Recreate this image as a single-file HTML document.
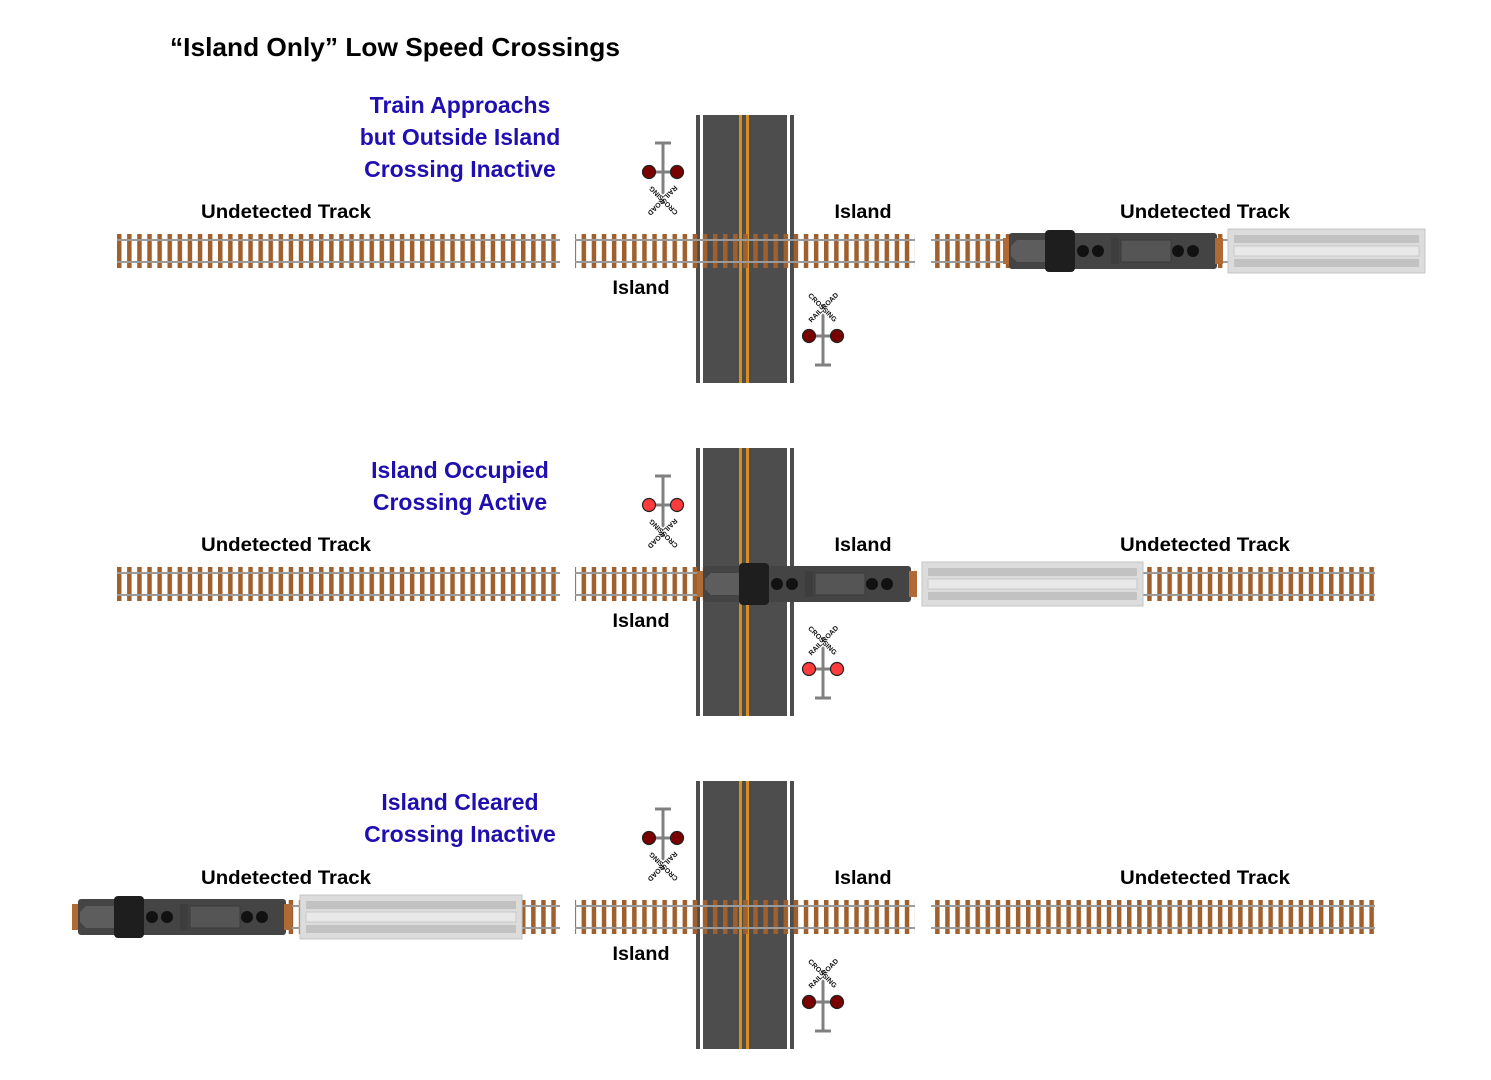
<!DOCTYPE html>
<html><head><meta charset="utf-8">
<style>
html,body{margin:0;padding:0;background:#fff;}
svg{display:block;font-family:"Liberation Sans",sans-serif;}
</style></head>
<body>
<svg id="root" width="1491" height="1080" viewBox="0 0 1491 1080">
<defs>
  <pattern id="ties" x="117" y="0" width="10.1" height="40" patternUnits="userSpaceOnUse">
    <rect x="0" y="0" width="4.5" height="40" fill="#a0602e"/>
  </pattern>
  <g id="loco">
    <rect x="0" y="8" width="8" height="26" fill="#b06a35"/>
    <rect x="6" y="3" width="208" height="36" rx="3" fill="#444"/>
    <polygon points="14,10 55,10 55,32 14,32 8,26 8,16" fill="#5d5d5d"/>
    <rect x="42" y="0" width="30" height="42" rx="4" fill="#1e1e1e"/>
    <circle cx="80" cy="21" r="6" fill="#111"/><circle cx="95" cy="21" r="6" fill="#111"/>
    <rect x="108" y="8" width="8" height="26" fill="#3d3d3d"/>
    <rect x="118" y="10" width="50" height="22" fill="#555" stroke="#3a3a3a"/>
    <circle cx="175" cy="21" r="6" fill="#111"/><circle cx="190" cy="21" r="6" fill="#111"/>
    <rect x="212" y="8" width="8" height="26" fill="#b06a35"/>
  </g>
</defs>
<text x="170" y="56" font-size="26" font-weight="bold" textLength="450" lengthAdjust="spacingAndGlyphs">“Island Only” Low Speed Crossings</text>
</svg>
<script>
const NS='http://www.w3.org/2000/svg';
const root=document.getElementById('root');
const rowOffsets=[0,333,666];
const rowTitles=[["Train Approachs","but Outside Island","Crossing Inactive"],["Island Occupied","Crossing Active"],["Island Cleared","Crossing Inactive"]];
const lightColors=["#7a0000","#ff3b3b","#7a0000"];
const trackRightEnds=[1425,1375,1375];
const locoX=[1003,697,72];
const carX=[1228,922,300];
const carW=[197,221,222];
function el(tag,attrs,parent){const e=document.createElementNS(NS,tag);for(const k in attrs)e.setAttribute(k,attrs[k]);(parent||root).appendChild(e);return e;}
function txt(x,y,s,size,fill,anchor,len,parent){const t=el('text',{x:x,y:y,'font-size':size,'font-weight':'bold',fill:fill,'text-anchor':anchor||'middle'},parent);if(len){t.setAttribute('textLength',len);t.setAttribute('lengthAdjust','spacingAndGlyphs');}t.textContent=s;return t;}
function track(x1,x2,cy,g){
  const tr=el('g',{},g);
  
  
  el('rect',{x:x1,y:cy-17,width:x2-x1,height:34,fill:'url(#ties)'},tr);
  el('rect',{x:x1,y:cy-12,width:x2-x1,height:2,fill:'#9a9a9a'},tr);
  el('rect',{x:x1,y:cy+10,width:x2-x1,height:2,fill:'#9a9a9a'},tr);
}
function drawCar(x,y,w,g){
  const c=el('g',{},g);
  
  
  el('rect',{x:x,y:y,width:w,height:44,fill:'#dcdcdc',stroke:'#c4c4c4'},c);
  el('rect',{x:x+6,y:y+6,width:w-12,height:8,fill:'#c2c2c2'},c);
  el('rect',{x:x+6,y:y+30,width:w-12,height:8,fill:'#c2c2c2'},c);
  el('rect',{x:x+6,y:y+17,width:w-12,height:10,fill:'#e8e8e8',stroke:'#c8c8c8'},c);
}
// cbDir: +1 crossbuck below lights (bar above), -1 crossbuck above lights (bar below)
function signal(px,ly,cbDir,color,g){
  const s=el('g',{},g);
  
  
  const barY=ly-cbDir*29;
  const cbY=ly+cbDir*29;
  el('rect',{x:px-1.5,y:Math.min(barY,cbY),width:3,height:Math.abs(cbY-barY),fill:'#808080'},s);
  el('rect',{x:px-8,y:barY-1.5,width:16,height:3,fill:'#808080'},s);
  el('rect',{x:px-12,y:ly-1.5,width:24,height:3,fill:'#808080'},s);
  el('circle',{cx:px-14,cy:ly,r:6.5,fill:color,stroke:'#222','stroke-width':1.2},s);
  el('circle',{cx:px+14,cy:ly,r:6.5,fill:color,stroke:'#222','stroke-width':1.2},s);
  const rot=cbDir>0?180:0;
  const a=el('g',{transform:`translate(${px},${cbY}) rotate(${rot})`},s);
  el('rect',{x:-21,y:-4.5,width:42,height:9,fill:'#fff',transform:'rotate(-45)'},a);
  el('rect',{x:-21,y:-4.5,width:42,height:9,fill:'#fff',transform:'rotate(45)'},a);
  const t1=el('text',{x:0,y:3,'font-size':7,'font-weight':'bold',fill:'#111','text-anchor':'middle',transform:'rotate(-45)'},a);t1.textContent='RAIL  ROAD';
  const t2=el('text',{x:0,y:3,'font-size':7,'font-weight':'bold',fill:'#111','text-anchor':'middle',transform:'rotate(45)'},a);t2.textContent='CROSSING';
}
rowOffsets.forEach((off,i)=>{
  const g=el('g',{});
  
  
  const cy=251+off;
  const road=el('g',{},g);
  
  
  el('rect',{x:696,y:115+off,width:98,height:268,fill:'#4d4d4d'},road);
  el('rect',{x:700,y:115+off,width:3,height:268,fill:'#fff'},road);
  el('rect',{x:787,y:115+off,width:3,height:268,fill:'#fff'},road);
  el('rect',{x:739,y:115+off,width:3,height:268,fill:'#d88f1f'},road);
  el('rect',{x:746,y:115+off,width:3,height:268,fill:'#d88f1f'},road);
  track(117,560,cy,g);
  track(575,915,cy,g);
  track(931,trackRightEnds[i],cy,g);
  signal(663,172+off,1,lightColors[i],g);
  signal(823,336+off,-1,lightColors[i],g);
  const tl=rowTitles[i];
  const startY=i==0?113:478+(i-1)*332;
  tl.forEach((s,j)=>{
    const t=txt(460,startY+j*32,s,23,'#1f0fb0','middle',null,g);
    
    
  });
  const l1=txt(286,218+off,'Undetected Track',19,'#000','middle',170,g);
  
  
  const l2=txt(863,218+off,'Island',19,'#000','middle',57,g);
  
  
  const l3=txt(1205,218+off,'Undetected Track',19,'#000','middle',170,g);
  
  
  const l4=txt(641,294+off,'Island',19,'#000','middle',57,g);
  
  
  drawCar(carX[i],cy-22,carW[i],g);
  const loco=el('use',{href:'#loco',x:locoX[i],y:cy-21},g);
  
  
});
</script>
</body></html>
